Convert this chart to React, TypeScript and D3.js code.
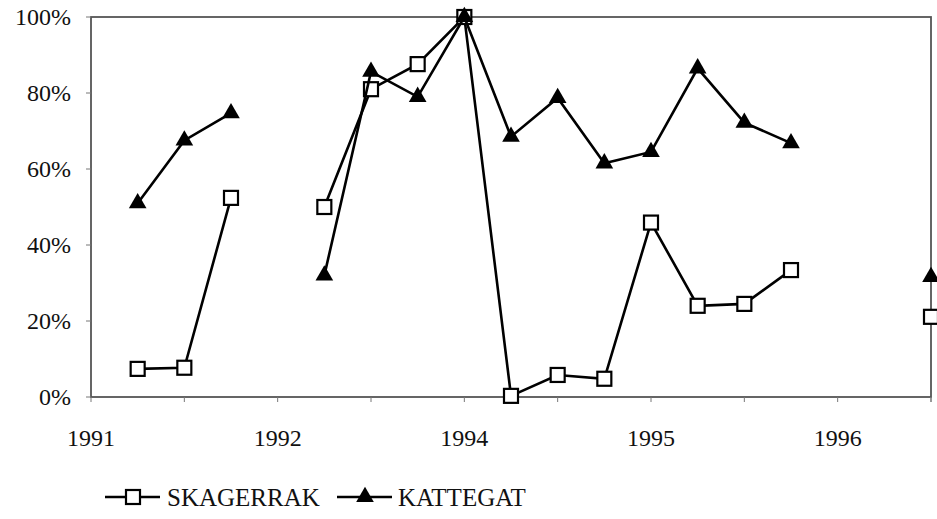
import React, { useEffect, useRef } from "react";
import * as d3 from "d3";

// quarterly categories, 19 positions on the axis
const categories = [
  "1991 Q1", "1991 Q2", "1991 Q3", "1991 Q4",
  "1992 Q1", "1992 Q2", "1992 Q3", "1992 Q4",
  "1993 Q1", "1993 Q2", "1993 Q3", "1993 Q4",
  "1994 Q1", "1994 Q2", "1994 Q3", "1994 Q4",
  "1995 Q1", "1995 Q2", "1995 Q3",
];

const skagerrak: (number | null)[] = [
  null, 7.4, 7.7, 52.4, null, 50, 81, 87.6, 100, 0.3, 5.8, 4.8, 45.9, 24, 24.5, 33.4, null, null, 21.1,
];
const kattegat: (number | null)[] = [
  null, 51, 67.5, 74.7, null, 32, 85.6, 79, 100, 68.5, 78.7, 61.5, 64.5, 86.5, 72.2, 66.8, null, null, 31.6,
];

const xTickLabels = ["1991", "1992", "1994", "1995", "1996"];
const xLabelAt = [0, 4, 8, 12, 16];
const yTicks = [0, 20, 40, 60, 80, 100];

const FONT = "'Times New Roman', Times, 'Liberation Serif', 'DejaVu Serif', serif";

export default function App() {
  const ref = useRef<SVGSVGElement>(null);

  useEffect(() => {
    const width = 937;
    const height = 519;
    const margin = { top: 17, right: 6, bottom: 122, left: 91 };
    const innerW = width - margin.left - margin.right;
    const innerH = height - margin.top - margin.bottom;

    const svg = d3.select(ref.current);
    svg.selectAll("*").remove();

    const x = d3.scalePoint<string>().domain(categories).range([0, innerW]).padding(0);
    const y = d3.scaleLinear().domain([0, 100]).range([innerH, 0]);

    const g = svg.append("g").attr("transform", `translate(${margin.left},${margin.top})`);

    // plot frame
    g.append("rect")
      .attr("x", 0).attr("y", 0)
      .attr("width", innerW).attr("height", innerH)
      .attr("fill", "none")
      .attr("stroke", "#555")
      .attr("stroke-width", 1.8);

    // y ticks + labels
    g.selectAll(".ytick").data(yTicks).join("line")
      .attr("class", "ytick")
      .attr("x1", -5).attr("x2", 0)
      .attr("y1", d => y(d)).attr("y2", d => y(d))
      .attr("stroke", "#777").attr("stroke-width", 1);
    g.selectAll(".ylab").data(yTicks).join("text")
      .attr("class", "ylab")
      .attr("x", -20)
      .attr("y", d => y(d))
      .attr("dy", "0.35em")
      .attr("text-anchor", "end")
      .attr("font-family", FONT)
      .attr("font-size", 24)
      .attr("fill", "#111")
      .text(d => `${d}%`);

    // x ticks every other category
    const tickCats = categories.filter((_, i) => i % 2 === 0);
    tickCats.push("__end");
    const tickX = (c: string) => (c === "__end" ? innerW : (x(c) as number));
    g.selectAll(".xtick").data(tickCats).join("line")
      .attr("class", "xtick")
      .attr("x1", d => tickX(d)).attr("x2", d => tickX(d))
      .attr("y1", innerH).attr("y2", innerH + 5)
      .attr("stroke", "#777").attr("stroke-width", 1);

    g.selectAll(".xlab").data(xTickLabels).join("text")
      .attr("class", "xlab")
      .attr("x", (_, i) => x(categories[xLabelAt[i]]) as number)
      .attr("y", innerH + 49)
      .attr("text-anchor", "middle")
      .attr("font-family", FONT)
      .attr("font-size", 24)
      .attr("fill", "#111")
      .text(d => d);

    const series = [
      { name: "SKAGERRAK", values: skagerrak, marker: "square" },
      { name: "KATTEGAT", values: kattegat, marker: "triangle" },
    ];

    const line = d3.line<number | null>()
      .defined(d => d !== null)
      .x((_, i) => x(categories[i]) as number)
      .y(d => y(d as number));

    const tri = d3.symbol().type(d3.symbolTriangle).size(135);

    series.forEach(s => {
      g.append("path")
        .attr("d", line(s.values))
        .attr("fill", "none")
        .attr("stroke", "#000")
        .attr("stroke-width", 2.6);

      const pts = s.values
        .map((v, i) => ({ v, i }))
        .filter(d => d.v !== null);

      if (s.marker === "square") {
        g.selectAll(".sq").data(pts).join("rect")
          .attr("class", "sq")
          .attr("x", d => (x(categories[d.i]) as number) - 7)
          .attr("y", d => y(d.v as number) - 7)
          .attr("width", 14).attr("height", 14)
          .attr("fill", "#fff")
          .attr("stroke", "#000")
          .attr("stroke-width", 2.2);
      } else {
        g.selectAll(".tri").data(pts).join("path")
          .attr("class", "tri")
          .attr("transform", d => `translate(${x(categories[d.i])},${y(d.v as number)})`)
          .attr("d", tri)
          .attr("fill", "#000");
      }
    });

    // legend
    const leg = svg.append("g").attr("transform", "translate(0,497)");
    leg.append("line").attr("x1", 105).attr("x2", 160).attr("y1", 0).attr("y2", 0)
      .attr("stroke", "#000").attr("stroke-width", 2.6);
    leg.append("rect").attr("x", 126).attr("y", -7).attr("width", 14).attr("height", 14)
      .attr("fill", "#fff").attr("stroke", "#000").attr("stroke-width", 2.2);
    leg.append("text").attr("x", 167).attr("y", 0).attr("dy", "0.35em")
      .attr("font-family", FONT).attr("font-size", 25).attr("fill", "#111")
      .text(series[0].name);

    leg.append("line").attr("x1", 337).attr("x2", 392).attr("y1", 0).attr("y2", 0)
      .attr("stroke", "#000").attr("stroke-width", 2.6);
    leg.append("path").attr("transform", "translate(365,0)").attr("d", tri).attr("fill", "#000");
    leg.append("text").attr("x", 398).attr("y", 0).attr("dy", "0.35em")
      .attr("font-family", FONT).attr("font-size", 25).attr("fill", "#111")
      .text(series[1].name);
  }, []);

  return (
    <svg
      ref={ref}
      width={937}
      height={519}
      style={{ position: "absolute", left: 0, top: 0, background: "#fff" }}
    />
  );
}
